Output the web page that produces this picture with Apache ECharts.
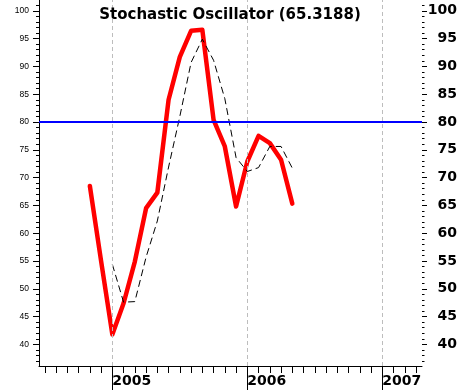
<!DOCTYPE html>
<html>
<head>
<meta charset="utf-8">
<script src="https://cdn.jsdelivr.net/npm/echarts@6/dist/echarts.min.js"></script>
<style>
  html, body { margin: 0; padding: 0; background: #ffffff; }
  #chart { width: 460px; height: 391px; }
</style>
</head>
<body>
<div id="chart"></div>
<script>
// ---- Data ----
var months = ['2004-11','2004-12','2005-01','2005-02','2005-03','2005-04','2005-05','2005-06',
              '2005-07','2005-08','2005-09','2005-10','2005-11','2005-12','2006-01','2006-02',
              '2006-03','2006-04','2006-05'];
var kValues = [68.5, 55.0, 41.8, 47.4, 54.9, 64.5, 67.3, 84.0, 91.7, 96.4, 96.6, 80.4,
               75.6, 64.8, 72.9, 77.5, 76.2, 73.2, 65.32];
var dValues = [null, null, 54.4, 47.6, 47.7, 55.7, 62.2, 71.9, 81.0, 90.7, 94.9, 91.1,
               84.2, 73.6, 71.1, 71.8, 75.6, 75.6, 71.7];
var yearLabels = ['2005', '2006', '2007'];
var yMajorTicks = [40, 45, 50, 55, 60, 65, 70, 75, 80, 85, 90, 95, 100];
var yMinorTicks = [37,38,39,41,42,43,44,46,47,48,49,51,52,53,54,56,57,58,59,61,62,63,64,
                   66,67,68,69,71,72,73,74,76,77,78,79,81,82,83,84,86,87,88,89,91,92,93,94,
                   96,97,98,99,101];
var overboughtLevel = 80;
var titleText = 'Stochastic Oscillator (65.3188)';

// month string -> month index relative to Jan 2005 (x scale unit)
function monthIndex(s) {
  var p = s.split('-');
  return (parseInt(p[0], 10) - 2005) * 12 + (parseInt(p[1], 10) - 1);
}
var yearIdx = yearLabels.map(function (y) { return monthIndex(y + '-01'); });
var monthTicks = [];
for (var m = -6; m <= 27; m++) monthTicks.push(m);

var kData = months.map(function (s, i) { return [monthIndex(s), kValues[i]]; });
var dData = [];
months.forEach(function (s, i) { if (dValues[i] != null) dData.push([monthIndex(s), dValues[i]]); });

var X_MIN = -6.52, X_MAX = 27.53;
var Y_MIN = 36.12, Y_MAX = 101.94;

var chart = echarts.init(document.getElementById('chart'), null, { renderer: 'canvas' });

var yBase = { type: 'value', min: Y_MIN, max: Y_MAX, splitLine: { show: false } };

chart.setOption({
  animation: false,
  backgroundColor: '#ffffff',
  title: {
    text: titleText,
    left: 'center',
    top: 3,
    textStyle: { fontFamily: 'DejaVu Sans', fontWeight: 'bold', fontSize: 15, color: '#000' }
  },
  grid: { left: 39, right: 38, top: 0, bottom: 25, containLabel: false, outerBoundsMode: 'none' },
  xAxis: [
    {
      type: 'value', min: X_MIN, max: X_MAX, position: 'bottom',
      axisLine: { show: true, onZero: false, lineStyle: { color: '#000', width: 1 } },
      axisTick: { show: true, length: 7, customValues: monthTicks, lineStyle: { color: '#000' } },
      axisLabel: { show: false },
      splitLine: { show: false }
    },
    {
      type: 'value', min: X_MIN, max: X_MAX, position: 'bottom',
      axisLine: { show: false, onZero: false },
      axisTick: { show: true, length: 24, customValues: yearIdx, lineStyle: { color: '#000' } },
      axisLabel: {
        show: true, customValues: yearIdx, align: 'left', margin: 8,
        fontFamily: 'DejaVu Sans', fontWeight: 'bold', fontSize: 14, color: '#000',
        formatter: function (v) { return yearLabels[yearIdx.indexOf(Math.round(v))] || ''; }
      },
      splitLine: { show: false }
    }
  ],
  yAxis: [
    Object.assign({}, yBase, {
      position: 'left',
      axisLine: { show: true, onZero: false, lineStyle: { color: '#000', width: 1 } },
      axisTick: { show: true, length: 6, customValues: yMajorTicks, lineStyle: { color: '#000' } },
      axisLabel: { show: true, customValues: yMajorTicks, margin: 10,
        fontFamily: 'Liberation Sans', fontSize: 8.5, color: '#000' }
    }),
    Object.assign({}, yBase, {
      position: 'left',
      axisLine: { show: false, onZero: false },
      axisTick: { show: true, length: 3, customValues: yMinorTicks, lineStyle: { color: '#000' } },
      axisLabel: { show: false }
    }),
    Object.assign({}, yBase, {
      position: 'right',
      axisLine: { show: false, onZero: false },
      axisTick: { show: true, length: 5, customValues: yMajorTicks, lineStyle: { color: '#000' } },
      axisLabel: { show: true, customValues: yMajorTicks, margin: 35, align: 'right',
        fontFamily: 'DejaVu Sans', fontWeight: 'bold', fontSize: 14, color: '#000' }
    }),
    Object.assign({}, yBase, {
      position: 'right',
      axisLine: { show: false, onZero: false },
      axisTick: { show: true, length: 2.5, customValues: yMinorTicks, lineStyle: { color: '#000' } },
      axisLabel: { show: false }
    })
  ],
  series: [
    {
      name: 'ref', type: 'line', data: [], xAxisIndex: 0, yAxisIndex: 0, z: 1,
      markLine: {
        silent: true, symbol: 'none', animation: false,
        label: { show: false },
        data: [
          { xAxis: yearIdx[0], lineStyle: { color: '#bdbdbd', type: [4, 3], width: 1 } },
          { xAxis: yearIdx[1], lineStyle: { color: '#bdbdbd', type: [4, 3], width: 1 } },
          { xAxis: yearIdx[2], lineStyle: { color: '#bdbdbd', type: [4, 3], width: 1 } },
          { yAxis: overboughtLevel, lineStyle: { color: '#0000ff', type: 'solid', width: 2 } }
        ]
      }
    },
    {
      name: '%K', type: 'line', data: kData, xAxisIndex: 0, yAxisIndex: 0, z: 2,
      showSymbol: false, symbol: 'none',
      lineStyle: { color: '#ff0000', width: 4.5, join: 'round', cap: 'round' }
    },
    {
      name: '%D', type: 'line', data: dData, xAxisIndex: 0, yAxisIndex: 0, z: 3,
      showSymbol: false, symbol: 'none',
      lineStyle: { color: '#000000', width: 1, type: [7, 4] }
    }
  ]
});
</script>
</body>
</html>
